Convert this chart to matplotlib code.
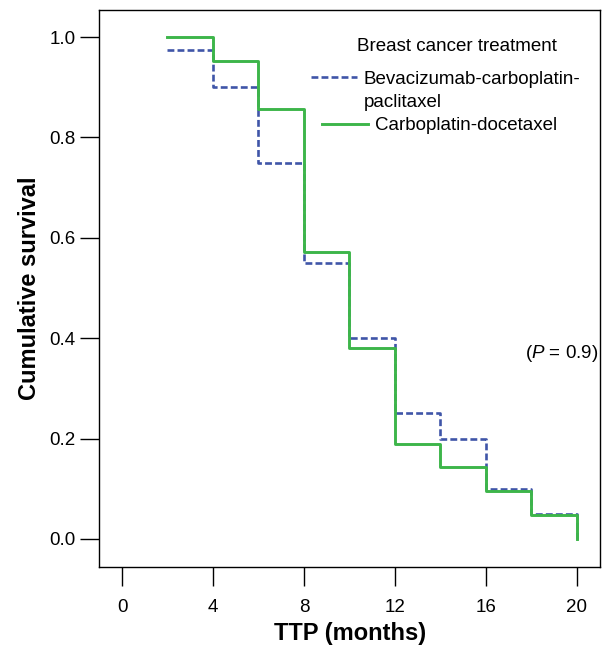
import matplotlib
matplotlib.use("Agg")
import matplotlib.pyplot as plt

plt.rcParams['font.family'] = ['Liberation Sans', 'DejaVu Sans']
plt.rcParams['mathtext.fontset'] = 'custom'
plt.rcParams['mathtext.rm'] = 'Liberation Sans'
plt.rcParams['mathtext.it'] = 'Liberation Sans:italic'

# TTP step times (months) and cumulative survival for each arm
months = [2, 4, 6, 8, 10, 12, 14, 16, 18, 20]
bev_surv = [0.975, 0.90, 0.75, 0.55, 0.40, 0.25, 0.20, 0.10, 0.05, 0.0]
doc_surv = [1.0, 0.952, 0.857, 0.571, 0.381, 0.190, 0.143, 0.095, 0.048, 0.0]

bev_label = ["Bevacizumab-carboplatin-", "paclitaxel"]
doc_label = "Carboplatin-docetaxel"
x_ticks = [0, 4, 8, 12, 16, 20]
y_ticks = [0.0, 0.2, 0.4, 0.6, 0.8, 1.0]

blue = "#3f55a8"
green = "#3db54a"

fig = plt.figure(figsize=(6.09, 6.5), dpi=100)
ax = fig.add_axes([0.163, 0.1277, 0.823, 0.857])

bev_line, = ax.step(months, bev_surv, where="post", color=blue, lw=1.9,
                    dashes=(2.6, 1.2))
doc_line, = ax.step(months, doc_surv, where="post", color=green, lw=2.1)

ax.set_xlim(-1, 21.04)
ax.set_ylim(-0.056, 1.054)
ax.set_xticks(x_ticks)
ax.set_yticks(y_ticks)
ax.set_yticklabels(["%.1f" % v for v in y_ticks])
ax.tick_params(direction="out", length=13.7, width=1.0, labelsize=13.5)
ax.tick_params(axis="x", pad=9)
ax.tick_params(axis="y", pad=3.5)
for sp in ax.spines.values():
    sp.set_linewidth(1.0)

ax.set_xlabel("TTP (months)", fontsize=17, fontweight="bold", labelpad=5)
ax.set_ylabel("Cumulative survival", fontsize=17, fontweight="bold", labelpad=6)

# legend: title + two entries (second line of first label under it)
ax.text(0.514, 0.935, "Breast cancer treatment", transform=ax.transAxes,
        fontsize=13.5, ha="left", va="center")
leg1 = ax.legend([bev_line], [bev_label[0]], loc="center left",
                 bbox_to_anchor=(0.422, 0.876), frameon=False, fontsize=13.5,
                 handlelength=2.45, handletextpad=0.37, borderpad=0,
                 borderaxespad=0)
ax.add_artist(leg1)
ax.text(0.528, 0.834, bev_label[1], transform=ax.transAxes,
        fontsize=13.5, ha="left", va="center")
ax.legend([doc_line], [doc_label], loc="center left",
          bbox_to_anchor=(0.444, 0.792), frameon=False, fontsize=13.5,
          handlelength=2.45, handletextpad=0.37, borderpad=0, borderaxespad=0)

ax.text(0.995, 0.384, "($\\it{P}$ = 0.9)", transform=ax.transAxes,
        fontsize=13.5, ha="right", va="center")

fig.savefig("out.png", dpi=100)
